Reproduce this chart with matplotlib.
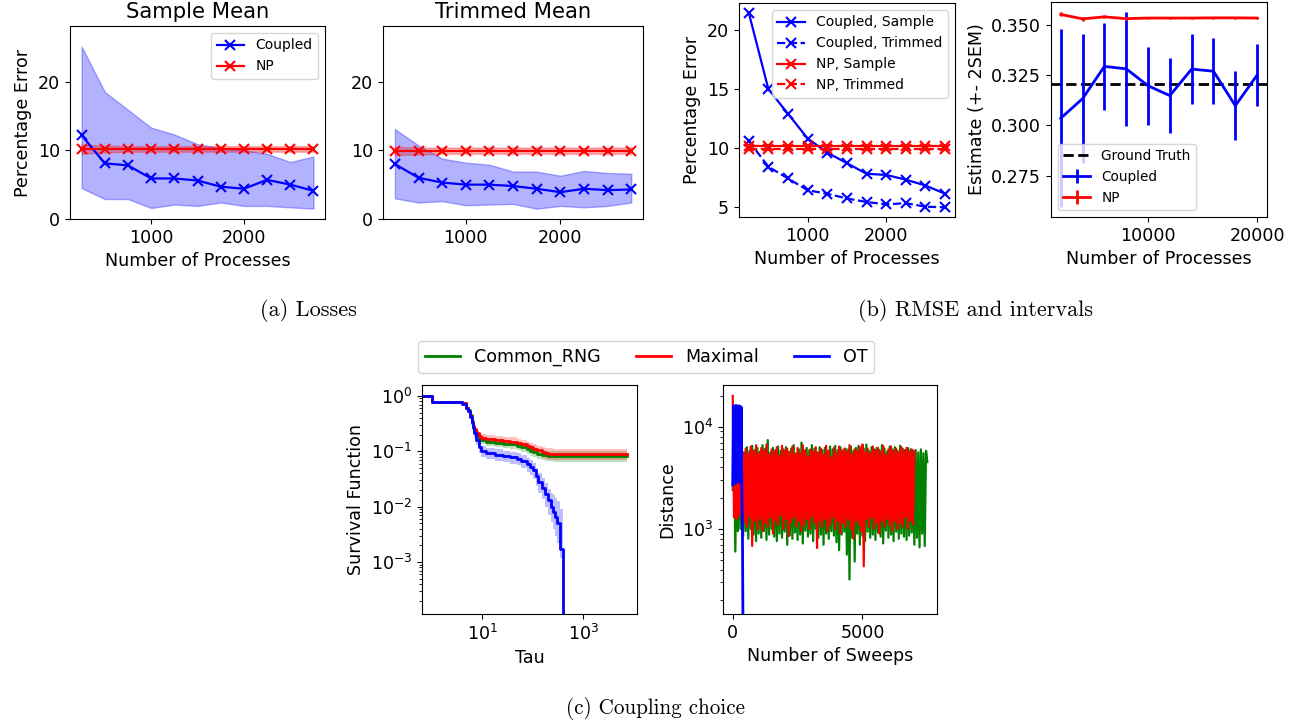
import numpy as np
import matplotlib
matplotlib.use("Agg")
import matplotlib.pyplot as plt

plt.rcParams['font.family'] = ['DejaVu Sans']
plt.rcParams['font.size'] = 12.6

# ---------------- (a) Losses: percentage error vs number of processes ----------------
n_proc = [250, 500, 750, 1000, 1250, 1500, 1750, 2000, 2250, 2500, 2750]

coupled_sample = [12.2, 8.1, 7.8, 5.9, 5.9, 5.6, 4.7, 4.4, 5.7, 5.0, 4.1]
coupled_sample_lo = [4.5, 2.9, 2.9, 1.6, 2.1, 1.9, 2.4, 1.9, 1.9, 1.7, 1.5]
coupled_sample_hi = [25.1, 18.5, 15.9, 13.3, 12.3, 10.9, 10.3, 10.0, 9.5, 8.3, 9.1]
np_sample = [10.2, 10.2, 10.2, 10.2, 10.2, 10.2, 10.2, 10.2, 10.2, 10.2, 10.2]
np_sample_lo = [9.5, 9.7, 9.8, 9.8, 9.8, 9.8, 9.8, 9.8, 9.8, 9.8, 9.8]
np_sample_hi = [10.8, 10.7, 10.6, 10.6, 10.6, 10.6, 10.6, 10.6, 10.6, 10.6, 10.6]

coupled_trimmed = [8.0, 6.0, 5.3, 5.0, 5.0, 4.8, 4.4, 3.9, 4.4, 4.2, 4.3]
coupled_trimmed_lo = [3.0, 2.4, 2.6, 2.0, 2.1, 2.2, 1.5, 1.9, 1.7, 1.9, 2.4]
coupled_trimmed_hi = [13.1, 10.7, 8.8, 8.2, 7.9, 6.9, 6.9, 6.3, 7.0, 6.7, 6.6]
np_trimmed = [9.9, 9.9, 9.9, 9.9, 9.9, 9.9, 9.9, 9.9, 9.9, 9.9, 9.9]
np_trimmed_lo = [9.3, 9.4, 9.5, 9.5, 9.5, 9.5, 9.5, 9.5, 9.5, 9.5, 9.5]
np_trimmed_hi = [10.5, 10.4, 10.4, 10.4, 10.4, 10.4, 10.4, 10.4, 10.4, 10.4, 10.4]

# ---------------- (b) RMSE and intervals ----------------
rmse_coupled_sample = [21.5, 15.0, 12.9, 10.8, 9.6, 8.7, 7.8, 7.7, 7.3, 6.8, 6.1]
rmse_coupled_trimmed = [10.6, 8.4, 7.4, 6.4, 6.1, 5.7, 5.4, 5.2, 5.3, 5.0, 4.95]
rmse_np_sample = [10.2, 10.2, 10.2, 10.2, 10.2, 10.2, 10.2, 10.2, 10.2, 10.2, 10.2]
rmse_np_trimmed = [9.9, 9.9, 9.9, 9.9, 9.9, 9.9, 9.9, 9.9, 9.9, 9.9, 9.9]

n_proc_large = [2000, 4000, 6000, 8000, 10000, 12000, 14000, 16000, 18000, 20000]
est_coupled = [0.3036, 0.3133, 0.3293, 0.3281, 0.3197, 0.3148, 0.3280, 0.3269, 0.3098, 0.3250]
est_coupled_err = [0.0442, 0.0320, 0.0215, 0.0283, 0.0193, 0.0187, 0.0173, 0.0165, 0.0171, 0.0153]
est_np = [0.3551, 0.3529, 0.3539, 0.3530, 0.3533, 0.3533, 0.3533, 0.3534, 0.3534, 0.3533]
est_np_err = [0.0010, 0.0009, 0.0008, 0.0008, 0.0007, 0.0007, 0.0007, 0.0006, 0.0006, 0.0006]
ground_truth = 0.3208

# ---------------- (c) Coupling choice ----------------
ot_tau = [0.3, 1, 4, 4.8, 5.3, 5.8, 6.3, 6.6, 7.0, 7.6, 8.6, 9.6, 12, 18, 26, 35,
          48, 60, 76, 90, 100, 115, 130, 150, 175, 200, 225, 250, 280, 300, 350, 400]
ot_surv = [1.0, 0.79, 0.72, 0.60, 0.54, 0.42, 0.32, 0.26, 0.21, 0.16, 0.12, 0.10,
           0.092, 0.087, 0.082, 0.078, 0.073, 0.066, 0.059, 0.052, 0.046, 0.036,
           0.028, 0.022, 0.017, 0.013, 0.010, 0.008, 0.0065, 0.005, 0.0017, 1e-7]
ot_surv_lo = [1.0, 0.76, 0.68, 0.56, 0.50, 0.38, 0.28, 0.22, 0.175, 0.13, 0.095, 0.078,
              0.072, 0.068, 0.064, 0.060, 0.056, 0.050, 0.043, 0.037, 0.032, 0.024,
              0.018, 0.0135, 0.0098, 0.0072, 0.0052, 0.0039, 0.0029, 0.0022, 0.0012, 1e-7]
ot_surv_hi = [1.0, 0.82, 0.76, 0.64, 0.58, 0.46, 0.36, 0.30, 0.245, 0.19, 0.145, 0.125,
              0.115, 0.109, 0.103, 0.098, 0.092, 0.085, 0.077, 0.069, 0.062, 0.050,
              0.040, 0.033, 0.027, 0.021, 0.018, 0.016, 0.0145, 0.0125, 0.009, 1e-7]

coupling_tau = [0.3, 1, 4, 4.8, 5.3, 5.8, 6.3, 6.6, 7.0, 7.6, 8.6, 9.6, 12, 18, 26, 35,
                48, 60, 76, 90, 100, 120, 150, 175, 200, 250, 7400]
maximal_surv = [1.0, 0.79, 0.74, 0.60, 0.54, 0.44, 0.34, 0.29, 0.25, 0.21, 0.19, 0.175,
                0.168, 0.160, 0.155, 0.150, 0.143, 0.135, 0.125, 0.118, 0.112, 0.104,
                0.097, 0.093, 0.091, 0.090, 0.090]
maximal_surv_lo = [1.0, 0.77, 0.71, 0.57, 0.51, 0.41, 0.31, 0.26, 0.22, 0.18, 0.162, 0.148,
                   0.141, 0.134, 0.129, 0.124, 0.117, 0.110, 0.101, 0.095, 0.089, 0.082,
                   0.076, 0.072, 0.070, 0.070, 0.070]
maximal_surv_hi = [1.0, 0.81, 0.77, 0.63, 0.57, 0.47, 0.37, 0.32, 0.28, 0.24, 0.22, 0.205,
                   0.197, 0.188, 0.183, 0.178, 0.170, 0.161, 0.150, 0.142, 0.135, 0.127,
                   0.119, 0.115, 0.113, 0.111, 0.111]
common_rng_surv = [1.0, 0.79, 0.74, 0.61, 0.55, 0.45, 0.35, 0.29, 0.24, 0.20, 0.175, 0.158,
                   0.150, 0.143, 0.138, 0.133, 0.126, 0.118, 0.109, 0.102, 0.097, 0.091,
                   0.087, 0.085, 0.084, 0.083, 0.083]
common_rng_surv_lo = [1.0, 0.77, 0.71, 0.58, 0.52, 0.42, 0.32, 0.26, 0.21, 0.17, 0.150, 0.134,
                      0.126, 0.120, 0.115, 0.110, 0.104, 0.097, 0.089, 0.083, 0.078, 0.073,
                      0.069, 0.067, 0.066, 0.065, 0.065]
common_rng_surv_hi = [1.0, 0.81, 0.77, 0.64, 0.58, 0.48, 0.38, 0.32, 0.27, 0.23, 0.200, 0.182,
                      0.174, 0.166, 0.161, 0.156, 0.148, 0.139, 0.129, 0.121, 0.116, 0.109,
                      0.105, 0.103, 0.102, 0.101, 0.101]

# distance between coupled chains, recorded every 50 sweeps (OT every 25 sweeps)
maximal_dist = [
    20000, 1300, 2600, 1250, 4800, 1350, 5200, 1200, 5600, 1150,
    6100, 1050, 5400, 1300, 6400, 680, 5800, 1200, 6600, 1000,
    5500, 1250, 6200, 950, 5900, 1150, 6700, 1050, 5300, 1300,
    6000, 900, 5700, 1200, 6300, 1100, 5200, 1350, 6500, 1000,
    5800, 1250, 6100, 850, 5600, 1150, 6400, 1300, 5400, 1050,
    6200, 1200, 5500, 950, 6600, 1100, 5900, 1250, 5100, 1000,
    6000, 1300, 5700, 1150, 6300, 650, 5600, 1200, 6100, 1050,
    5300, 1250, 6500, 950, 5800, 1100, 5000, 1300, 6200, 1000,
    5500, 1200, 6400, 900, 5900, 1150, 6100, 1050, 5700, 1250,
    6600, 1000, 5400, 800, 6000, 1200, 5800, 1100, 6300, 950,
    6700, 430, 5600, 1250, 6100, 1050, 5500, 1300, 6400, 1000,
    5900, 1150, 6200, 900, 5700, 1200, 6500, 1050, 5300, 1250,
    6000, 1100, 6400, 950, 5800, 1200, 6100, 1000, 5600, 1150,
    6300, 1050, 5900, 1300, 6200, 1000, 5700, 1200, 6000, 1100,
    5800]
common_rng_dist = [
    2400, 7500, 600, 5400, 950, 5900, 1000, 6100, 850, 5600,
    950, 6300, 800, 5800, 1000, 6500, 880, 5900, 760, 6200,
    900, 5700, 820, 6600, 950, 6100, 780, 7400, 880, 5600,
    1000, 6200, 840, 5900, 760, 6400, 900, 5800, 820, 6000,
    940, 6300, 700, 5700, 860, 6100, 800, 6600, 920, 5500,
    780, 6000, 880, 7000, 720, 5800, 960, 6200, 840, 5900,
    900, 6600, 760, 6100, 1000, 5600, 820, 6300, 880, 5900,
    700, 6200, 900, 5800, 800, 6400, 950, 6000, 860, 6500,
    740, 5900, 620, 6300, 880, 5700, 940, 6100, 560, 6000,
    320, 6400, 820, 5800, 480, 6200, 900, 6500, 700, 5900,
    860, 6100, 760, 6700, 940, 5800, 820, 6300, 880, 6000,
    780, 6200, 920, 5900, 840, 6600, 720, 6100, 960, 5700,
    820, 6400, 880, 6000, 760, 6300, 940, 5800, 800, 6500,
    900, 6100, 840, 5900, 780, 6200, 860, 6000, 920, 5800,
    700, 5900, 820, 5600, 660, 6000, 900, 5500, 680, 5800,
    4500]
ot_dist = [2700, 16000, 3000, 15500, 2800, 16200, 3200, 15800, 2900, 16000,
           3100, 15900, 2800, 15600, 2600, 900, 60]

BLUE, RED, GREEN = 'blue', 'red', 'green'
mk = dict(marker='x', ms=6.5, mew=1.5, lw=1.6)

fig = plt.figure(figsize=(13.06, 7.28), dpi=100)

# ---- Sample mean panel ----
ax1 = fig.add_axes([0.0536, 0.6992, 0.1953, 0.2651])
ax1.fill_between(n_proc, coupled_sample_lo, coupled_sample_hi, color=BLUE, alpha=0.3)
ax1.plot(n_proc, coupled_sample, color=BLUE, label='Coupled', **mk)
ax1.fill_between(n_proc, np_sample_lo, np_sample_hi, color=RED, alpha=0.3)
ax1.plot(n_proc, np_sample, color=RED, label='NP', **mk)
ax1.set_ylim(0, 28.1)
ax1.set_yticks([0, 10, 20])
ax1.set_xticks([1000, 2000])
ax1.set_title('Sample Mean', fontsize=15.2)
ax1.set_xlabel('Number of Processes')
ax1.set_ylabel('Percentage Error')
ax1.legend(loc='upper right', fontsize=10)

# ---- Trimmed mean panel ----
ax2 = fig.add_axes([0.2933, 0.6992, 0.1991, 0.2651])
ax2.fill_between(n_proc, coupled_trimmed_lo, coupled_trimmed_hi, color=BLUE, alpha=0.3)
ax2.plot(n_proc, coupled_trimmed, color=BLUE, **mk)
ax2.fill_between(n_proc, np_trimmed_lo, np_trimmed_hi, color=RED, alpha=0.3)
ax2.plot(n_proc, np_trimmed, color=RED, **mk)
ax2.set_ylim(0, 28.1)
ax2.set_yticks([0, 10, 20])
ax2.set_xticks([1000, 2000])
ax2.set_title('Trimmed Mean', fontsize=15.2)

# ---- RMSE panel ----
ax3 = fig.add_axes([0.5658, 0.7019, 0.1654, 0.2940])
ax3.plot(n_proc, rmse_coupled_sample, color=BLUE, label='Coupled, Sample', **mk)
ax3.plot(n_proc, rmse_coupled_trimmed, color=BLUE, ls='--', label='Coupled, Trimmed', **mk)
ax3.plot(n_proc, rmse_np_sample, color=RED, label='NP, Sample', **mk)
ax3.plot(n_proc, rmse_np_trimmed, color=RED, ls='--', label='NP, Trimmed', **mk)
ax3.set_yticks([5, 10, 15, 20])
ax3.set_xticks([1000, 2000])
ax3.set_xlabel('Number of Processes')
ax3.set_ylabel('Percentage Error')
ax3.legend(loc='upper right', fontsize=10)

# ---- Interval panel ----
ax4 = fig.add_axes([0.8047, 0.7019, 0.1654, 0.2953])
h_gt = ax4.axhline(ground_truth, color='black', ls='--', lw=2, label='Ground Truth')
h_c = ax4.errorbar(n_proc_large, est_coupled, yerr=est_coupled_err, color=BLUE, lw=2,
                   elinewidth=2, label='Coupled')
h_n = ax4.errorbar(n_proc_large, est_np, yerr=est_np_err, color=RED, lw=2,
                   elinewidth=2, label='NP')
ax4.set_yticks([0.275, 0.300, 0.325, 0.350])
ax4.set_xticks([10000, 20000])
ax4.set_xlabel('Number of Processes')
ax4.set_ylabel('Estimate (+- 2SEM)')
ax4.legend(handles=[h_gt, h_c, h_n], loc='lower left', fontsize=9.8)

# ---- Survival function panel ----
ax5 = fig.add_axes([0.3231, 0.1566, 0.1646, 0.3146])
ax5.fill_between(coupling_tau, common_rng_surv_lo, common_rng_surv_hi, step='post',
                 color=GREEN, alpha=0.25, lw=0)
ax5.plot(coupling_tau, common_rng_surv, color=GREEN, lw=2, drawstyle='steps-post',
         label='Common_RNG')
ax5.fill_between(coupling_tau, maximal_surv_lo, maximal_surv_hi, step='post',
                 color=RED, alpha=0.25, lw=0)
ax5.plot(coupling_tau, maximal_surv, color=RED, lw=2, drawstyle='steps-post', label='Maximal')
ax5.fill_between(ot_tau, ot_surv_lo, ot_surv_hi, step='post', color=BLUE, alpha=0.25, lw=0)
ax5.plot(ot_tau, ot_surv, color=BLUE, lw=2, drawstyle='steps-post', label='OT')
ax5.set_xscale('log')
ax5.set_yscale('log')
ax5.set_xlim(0.646, 11500)
ax5.set_ylim(1.15e-4, 1.58)
ax5.set_xticks([10, 1000])
ax5.set_xlabel('Tau')
ax5.set_ylabel('Survival Function')

# ---- Distance panel ----
ax6 = fig.add_axes([0.5536, 0.1566, 0.1639, 0.3146])
ax6.plot(np.arange(len(common_rng_dist)) * 50, common_rng_dist, color=GREEN, lw=1.6)
ax6.plot(np.arange(len(maximal_dist)) * 50, maximal_dist, color=RED, lw=1.6)
ax6.plot(np.arange(len(ot_dist)) * 25, ot_dist, color=BLUE, lw=2)
ax6.set_yscale('log')
ax6.set_ylim(147, 25600)
ax6.set_xlim(-375, 7875)
ax6.set_xticks([0, 5000])
ax6.set_xlabel('Number of Sweeps')
ax6.set_ylabel('Distance')

handles, labels = ax5.get_legend_handles_labels()
fig.legend(handles, labels, loc='center', ncol=3, bbox_to_anchor=(0.495, 0.5096),
           columnspacing=2.0)

# ---- sub-figure captions ----
cap = dict(family='cmr10', ha='center', va='center')
fig.text(308 / 1306, 1 - 311 / 728, '(a) Losses', fontsize=16, **cap)
fig.text(976 / 1306, 1 - 310 / 728, '(b) RMSE and intervals', fontsize=16, **cap)
fig.text(655 / 1306, 1 - 709 / 728, '(c) Coupling choice', fontsize=15.2, **cap)

fig.savefig('out.png', dpi=100)
